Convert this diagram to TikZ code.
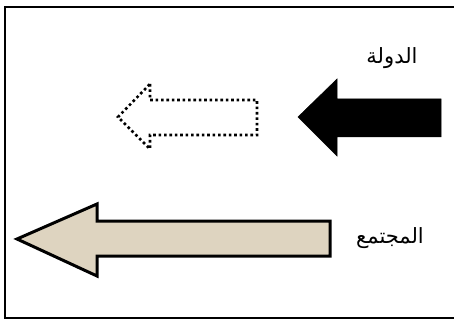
\documentclass[tikz,border=0pt]{standalone}
\usepackage{fontspec}
\newfontfamily\arabicfont[Script=Arabic]{DejaVu Sans}
\TeXXeTstate=1
\begin{document}
\begin{tikzpicture}[x=1pt,y=-1pt,
  frame/.style={line width=2.5pt},
  solidarrow/.style={fill=black,draw=black,line width=0.5pt},
  dotarrow/.style={draw=black,line width=2.6pt,dash pattern=on 2.6pt off 2.8pt},
  beigearrow/.style={draw=black,line width=3pt,fill={rgb,255:red,222;green,212;blue,192},line join=miter},
  lbl/.style={font=\arabicfont\fontsize{21}{25}\selectfont}]
\useasboundingbox (0,0) rectangle (454,320);
\fill[white] (0,0) rectangle (454,320);
\draw[frame] (454,7) -- (5,7) -- (5,318) -- (454,318);
% black arrow
\path[solidarrow] (298,117) -- (337,79) -- (337,99) -- (441,99) -- (441,137) -- (337,137) -- (337,156) -- cycle;
% dotted arrow
\draw[dotarrow] (150,84) -- (150,100) -- (257,100) -- (257,135) -- (150,135) -- (150,149) -- (118,117) -- cycle;
% beige arrow
\path[beigearrow] (17,239) -- (97,204) -- (97,221) -- (330,221) -- (330,256) -- (97,256) -- (97,276) -- cycle;
\node[lbl] (dawla) at (392,58) {\beginR الدولة\endR};
\node[lbl] (mujtama) at (390,238) {\beginR المجتمع\endR};
\end{tikzpicture}
\end{document}
